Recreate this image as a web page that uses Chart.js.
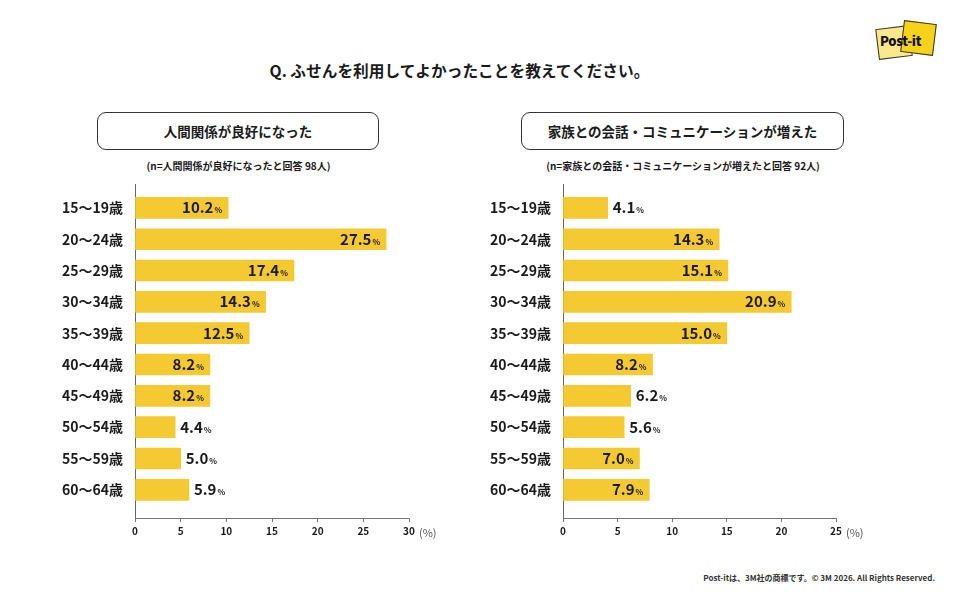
<!DOCTYPE html>
<html lang="ja">
<head>
<meta charset="utf-8">
<script src="https://cdn.jsdelivr.net/npm/chart.js@4.4.1/dist/chart.umd.min.js"></script>
<style>
  html, body { margin: 0; padding: 0; background: #fff; }
  body { width: 970px; height: 604px; position: relative; overflow: hidden;
         font-family: "Noto Sans CJK JP", "Noto Sans", sans-serif; color: #1a1a1a; }
  .abs { position: absolute; }
  .title { left: 2px; width: 915px; top: 59px; text-align: center; font-size: 15.7px; font-weight: 700; }
  .box { top: 112px; height: 36px; border: 1.5px solid #333; border-radius: 9px;
         display: flex; align-items: center; justify-content: center; font-size: 13.5px; font-weight: 700; }
  .note { top: 158px; font-size: 10px; font-weight: 700; text-align: center; }
  .unit { top: 524px; font-size: 11px; color: #555; }
  .foot { right: 35px; top: 572px; font-size: 8px; font-weight: 700; color: #333; }
  .sq1 { left: 877px; top: 27px; width: 32px; height: 29px; background: #fbe88a; border: 1px solid #333; transform: rotate(-7deg); }
  .sq2 { left: 902px; top: 22px; width: 31px; height: 30px; background: #f6d31a; border: 1px solid #333; transform: rotate(7deg); }
  .logo { left: 880px; top: 31px; font-size: 13px; font-weight: 900; color: #111; letter-spacing: -0.3px; }
  canvas { position: absolute; }
</style>
</head>
<body>
<div class="abs sq1"></div>
<div class="abs sq2"></div>
<div class="abs logo">Post-it</div>

<div class="abs title">Q. ふせんを利用してよかったことを教えてください。</div>

<div class="abs box" style="left:97px; width:280px;">人間関係が良好になった</div>
<div class="abs note" style="left:97px; width:283px;">(n=人間関係が良好になったと回答 98人)</div>
<div class="abs box" style="left:521px; width:321px;">家族との会話・コミュニケーションが増えた</div>
<div class="abs note" style="left:521px; width:324px;">(n=家族との会話・コミュニケーションが増えたと回答 92人)</div>

<div style="position:absolute; left:40px; top:164px; width:389px; height:384px;"><canvas id="leftChart"></canvas></div>
<div style="position:absolute; left:470px; top:164px; width:386px; height:384px;"><canvas id="rightChart"></canvas></div>

<div class="abs unit" style="left:419px;">(%)</div>
<div class="abs unit" style="left:846px;">(%)</div>

<div class="abs foot">Post-itは、3M社の商標です。© 3M 2026. All Rights Reserved.</div>

<script>
// data ------------------------------------------------
const ageGroups = ['15〜19歳', '20〜24歳', '25〜29歳', '30〜34歳', '35〜39歳',
                   '40〜44歳', '45〜49歳', '50〜54歳', '55〜59歳', '60〜64歳'];
const relationValues = [10.2, 27.5, 17.4, 14.3, 12.5, 8.2, 8.2, 4.4, 5.0, 5.9];
const familyValues = [4.1, 14.3, 15.1, 20.9, 15.0, 8.2, 6.2, 5.6, 7.0, 7.9];
const leftMax = 30;
const rightMax = 25;

const FONT = '"Noto Sans CJK JP", "Noto Sans", sans-serif';
const barColor = '#f5c932';

// value labels: bold number + small %
const valueLabels = {
  id: 'valueLabels',
  afterDatasetsDraw(chart) {
    const c = chart.ctx;
    const meta = chart.getDatasetMeta(0);
    meta.data.forEach((bar, i) => {
      const num = chart.data.datasets[0].data[i].x.toFixed(1);
      c.save();
      c.fillStyle = '#1a1a1a';
      c.font = 'bold 15px ' + FONT;
      const wNum = c.measureText(num).width;
      c.font = 'bold 8px ' + FONT;
      const wPct = c.measureText('%').width;
      const total = wNum + 1 + wPct;
      const inside = (bar.x - bar.base) > 70;
      const x = inside ? bar.x - 6 - total : bar.x + 5;
      const y = bar.y + 5.5;
      c.font = 'bold 15px ' + FONT;
      c.fillText(num, x, y);
      c.font = 'bold 8px ' + FONT;
      c.fillText('%', x + wNum + 1, y);
      c.restore();
    });
  }
};

function makeChart(id, values, xMax, yWidth) {
  return new Chart(document.getElementById(id), {
    type: 'bar',
    data: {
      datasets: [{
        data: values.map((v, i) => ({ x: v, y: i })),
        backgroundColor: barColor,
        barThickness: 21,
        borderWidth: 0
      }]
    },
    options: {
      indexAxis: 'y',
      responsive: true,
      maintainAspectRatio: false,
      animation: false,
      layout: { padding: { top: 8, right: 20, left: 0, bottom: 0 } },
      plugins: { legend: { display: false }, tooltip: { enabled: false } },
      scales: {
        x: {
          type: 'linear',
          min: 0,
          max: xMax,
          afterFit: s => { s.height = 30; },
          border: { display: true, color: '#777', width: 1 },
          grid: { display: true, drawOnChartArea: false, drawTicks: true, tickLength: 4, color: '#777' },
          ticks: { stepSize: 5, padding: 3, color: '#1a1a1a', font: { family: FONT, size: 10, weight: 'bold' } }
        },
        y: {
          type: 'linear',
          reverse: true,
          offset: false,
          bounds: 'data',
          min: -0.75,
          max: 9.9,
          afterFit: s => { s.width = yWidth; },
          afterBuildTicks: s => { s.ticks = ageGroups.map((g, i) => ({ value: i })); },
          border: { display: true, color: '#666', width: 1 },
          grid: { display: false, drawTicks: false, offset: false },
          ticks: {
            padding: 12,
            color: '#1a1a1a',
            font: { family: FONT, size: 14, weight: 'bold' },
            callback: v => ageGroups[v] || ''
          }
        }
      }
    },
    plugins: [valueLabels]
  });
}

makeChart('leftChart', relationValues, leftMax, 95);
makeChart('rightChart', familyValues, rightMax, 93);
</script>
</body>
</html>
